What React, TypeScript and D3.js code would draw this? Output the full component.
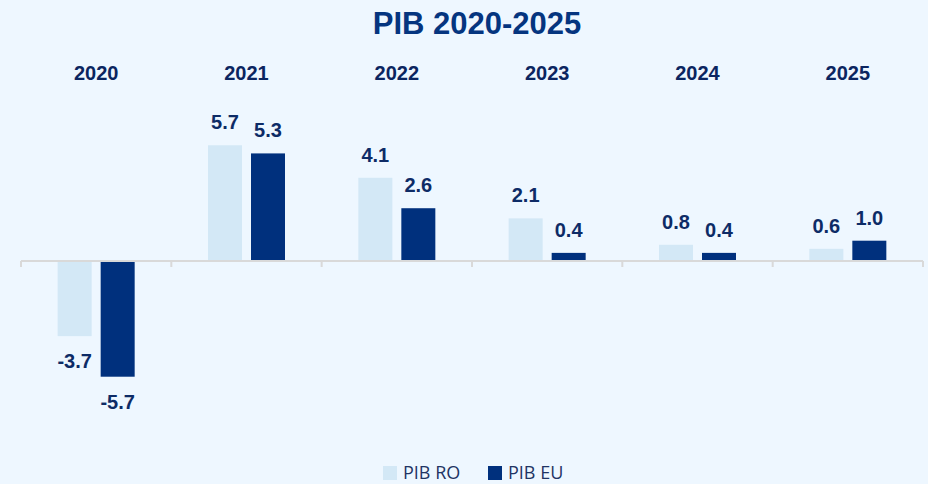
import React from "react";
import * as d3 from "d3";

const years = ["2020", "2021", "2022", "2023", "2024", "2025"];
const pibRO = [-3.7, 5.7, 4.1, 2.1, 0.8, 0.6];
const pibEU = [-5.7, 5.3, 2.6, 0.4, 0.4, 1.0];
const seriesNames = ["PIB RO", "PIB EU"];
const title = "PIB 2020-2025";

const W = 928;
const H = 484;
const colRO = "#d3e8f6";
const colEU = "#00307d";
const textCol = "#0d2b66";

export default function App() {
  const x = d3.scaleBand<string>().domain(years).range([21, 923]).padding(0);
  const y = d3.scaleLinear().domain([-7, 7]).range([261 + 7 * 20.3, 261 - 7 * 20.3]);
  const bw = 34;
  const gap = 9;
  const y0 = y(0);

  const series = [
    { name: seriesNames[0], values: pibRO, color: colRO, off: -gap / 2 - bw },
    { name: seriesNames[1], values: pibEU, color: colEU, off: gap / 2 },
  ];

  const ticks = [...years.map((yr) => x(yr)!), 923];

  return (
    <svg
      width={W}
      height={H}
      style={{ position: "absolute", left: 0, top: 0, display: "block", background: "#eef7ff" }}
    >
      <rect x={0} y={0} width={W} height={H} fill="#eef7ff" />
      <text
        x={477}
        y={34}
        textAnchor="middle"
        fontFamily="'Liberation Sans', Arial, sans-serif"
        fontWeight="bold"
        fontSize={31}
        fill="#05357f"
      >
        {title}
      </text>
      {years.map((yr) => (
        <text
          key={yr}
          x={x(yr)! + x.bandwidth() / 2}
          y={80}
          textAnchor="middle"
          fontFamily="'Liberation Sans', Arial, sans-serif"
          fontWeight="bold"
          fontSize={20}
          fill="#0b2560"
        >
          {yr}
        </text>
      ))}
      {series.map((s) =>
        years.map((yr, i) => {
          const v = s.values[i];
          const cx = x(yr)! + x.bandwidth() / 2;
          const bx = cx + s.off;
          const top = Math.min(y(v), y0);
          const h = Math.abs(y(v) - y0);
          const ly = v >= 0 ? y(v) - 16 : y(v) + 32;
          return (
            <g key={s.name + yr}>
              <rect x={bx} y={top} width={bw} height={h} fill={s.color} />
              <text
                x={bx + bw / 2}
                y={ly}
                textAnchor="middle"
                fontFamily="'Liberation Sans', Arial, sans-serif"
                fontWeight="bold"
                fontSize={20}
                fill={textCol}
              >
                {v.toFixed(1)}
              </text>
            </g>
          );
        })
      )}
      <line x1={21} x2={923} y1={y0} y2={y0} stroke="#d9d9d9" strokeWidth={2} />
      {ticks.map((t, i) => (
        <line key={i} x1={t} x2={t} y1={y0} y2={y0 + 6} stroke="#d9d9d9" strokeWidth={2} />
      ))}
      <g fontFamily="'Open Sans', sans-serif" fontSize={18} fill="#1f3464">
        <rect x={383} y={466} width={14} height={14} fill={colRO} />
        <text x={403} y={479}>{seriesNames[0]}</text>
        <rect x={488} y={466} width={14} height={14} fill={colEU} />
        <text x={508} y={479}>{seriesNames[1]}</text>
      </g>
    </svg>
  );
}
